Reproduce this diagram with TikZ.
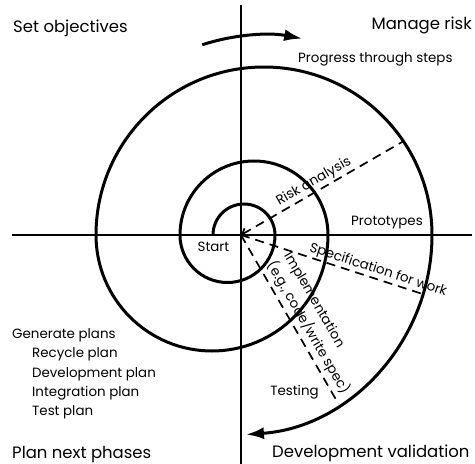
\documentclass[tikz,border=0pt]{standalone}
\usepackage{fontspec}
\setmainfont{Poppins}
\usetikzlibrary{arrows.meta}

\begin{document}
\begin{tikzpicture}[x=1pt,y=1pt,
  axis/.style={line width=2.8pt},
  spiral/.style={line width=3pt},
  guide/.style={line width=1.7pt,dash pattern=on 9pt off 6pt},
  bigtext/.style={font=\fontsize{16.5}{20}\selectfont,inner sep=0pt},
  smalltext/.style={font=\fontsize{13.4}{19.5}\selectfont,inner sep=0pt}]
  \useasboundingbox (-241,-229) rectangle (234,235);
  \coordinate (O) at (0,0);
  \coordinate (axtop) at (0,230);
  \coordinate (axbot) at (0,-229);
  \coordinate (axleft) at (-229,0);
  \coordinate (axright) at (231,0);
  \draw[axis] (axtop) -- (axbot);
  \draw[axis] (axleft) -- (axright);
  % spiral of half circles
  \draw[spiral,-{Latex[length=18pt,width=12pt]}] (-28,0)
    arc[start angle=180,end angle=0,radius=31]
    arc[start angle=0,end angle=-180,radius=47.5]
    arc[start angle=180,end angle=0,radius=74]
    arc[start angle=0,end angle=-180,radius=116]
    arc[start angle=180,end angle=0,radius=168]
    arc[start angle=0,end angle=-86,radius=200];
  \draw[spiral,-{Latex[length=18pt,width=12pt]}] ([shift={(23,0)}]108:200)
    arc[start angle=108,end angle=79,radius=200];
  % dashed steps
  \coordinate (riskend) at (30:187);
  \coordinate (specend) at (-18:191);
  \coordinate (implend) at (-60:195);
  \draw[guide,{Straight Barb[length=5pt,width=8pt]}-] (O) -- node[smalltext,sloped,above=2pt,pos=.48] (risk) {Risk analysis} (riskend);
  \draw[guide] (O) -- node[smalltext,sloped,above=1pt,pos=.74] (spec) {Specification for work} (specend);
  \draw[guide] (O) -- node[smalltext,sloped,anchor=south west,align=left,inner sep=3pt,pos=.18] (impl) {Implementation\\(e.g., code/write spec)} (implend);
  % labels
  \node[bigtext,anchor=base west] (setobj) at (-228,203) {Set objectives};
  \node[bigtext,anchor=base east] (manage) at (231,205) {Manage risk};
  \node[smalltext,anchor=base west] (progress) at (57,173) {Progress through steps};
  \node[bigtext,anchor=base west] (plannext) at (-229,-223) {Plan next phases};
  \node[bigtext,anchor=base west] (devval) at (31,-222) {Development validation};
  \node[smalltext,anchor=base] (start) at (-27.5,-16) {Start};
  \node[smalltext,anchor=base] (proto) at (146,10) {Prototypes};
  \node[smalltext,anchor=base] (testing) at (53.5,-160) {Testing};
  \node[smalltext,anchor=base west] (genplans) at (-229,-103) {Generate plans};
  \node[smalltext,anchor=base west] (recycle) at (-209,-122) {Recycle plan};
  \node[smalltext,anchor=base west] (devplan) at (-209,-142) {Development plan};
  \node[smalltext,anchor=base west] (intplan) at (-209,-161) {Integration plan};
  \node[smalltext,anchor=base west] (testplan) at (-209,-180) {Test plan};
\end{tikzpicture}
\end{document}
